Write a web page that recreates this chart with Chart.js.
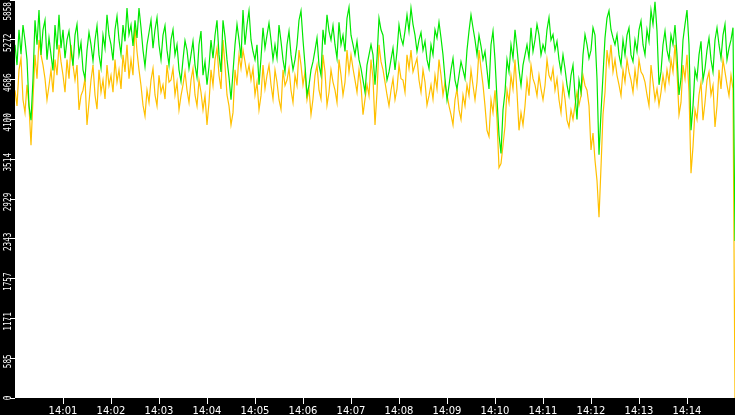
<!DOCTYPE html>
<html>
<head>
<meta charset="utf-8">
<script src="https://cdn.jsdelivr.net/npm/chart.js@4.4.0/dist/chart.umd.min.js"></script>
<style>
  html, body { margin: 0; padding: 0; background: #000; }
  canvas { display: block; }
</style>
</head>
<body>
<canvas id="chart" width="735" height="415"></canvas>
<script>
// one sample every 2.5 s from 14:00:00 to 14:15:00
const stepSeconds = 2.5;

const greenValues = [
  5200, 4900, 5420, 5060, 5490, 5260, 4980, 4300, 4090, 4700, 5560, 5200, 5710, 5050, 5420, 5560, 4980, 5300, 5050, 4820,
  5490, 5130, 5640, 5150, 5420, 5000, 5270, 5400, 5120, 4890, 5340, 5500, 5050, 5230, 4830, 4700, 5120, 5380, 5200, 4960,
  5270, 5480, 5050, 4860, 5340, 5150, 5640, 5340, 5200, 4970, 5420, 5620, 5270, 5060, 5490, 5250, 5740, 5350, 5490, 5180,
  5560, 5300, 5740, 5450, 5120, 4880, 5200, 5380, 5560, 5150, 5420, 5600, 5200, 4980, 5340, 5480, 5120, 4900, 5270, 5420,
  5050, 5200, 4830, 4660, 4980, 5260, 5120, 4850, 5050, 5250, 4900, 4720, 5200, 5400, 4750, 4950, 4610, 4880, 5270, 5000,
  5340, 5560, 5050, 4800, 5560, 5320, 4980, 4720, 4390, 4800, 5200, 5500, 5270, 5000, 5710, 5200, 5490, 5700, 5270, 5100,
  4980, 5200, 4610, 5000, 5450, 5150, 5340, 5520, 5270, 4980, 5200, 5000, 5490, 5250, 4980, 4800, 5200, 5400, 5050, 4830,
  4980, 5200, 5560, 5700, 5270, 4900, 4460, 4600, 4830, 4950, 5120, 5300, 4900, 4750, 5420, 5200, 5640, 5400, 5270, 5480,
  5200, 5000, 5530, 5200, 5340, 5100, 5590, 5750, 5340, 5200, 5050, 5250, 4980, 4850, 4680, 4500, 4900, 5050, 5200, 5050,
  4610, 5000, 5590, 5420, 5340, 5000, 4680, 4800, 4980, 5150, 4830, 5100, 5490, 5300, 5200, 5400, 5640, 5400, 5740, 5500,
  5340, 5100, 5270, 5380, 5120, 5250, 4980, 4850, 5200, 5050, 5420, 5300, 5530, 5300, 5050, 4700, 4390, 4600, 4830, 5000,
  4680, 4550, 4750, 4950, 4830, 4700, 5120, 5400, 5640, 5450, 5270, 5050, 5340, 5180, 4980, 5100, 4830, 4550, 5200, 5400,
  4980, 4400, 3870, 3600, 4240, 4500, 4980, 4800, 5200, 5000, 5420, 5150, 4830, 4600, 4900, 5050, 5200, 5000, 5450, 5100,
  5270, 5500, 5340, 5050, 5200, 5100, 5420, 5600, 5270, 5350, 5120, 5250, 4980, 4800, 5050, 4850, 4610, 4450, 4750, 4900,
  4460, 4100, 4680, 4500, 5050, 5350, 5200, 5000, 5120, 5450, 5340, 4700, 3580, 4200, 4750, 5300, 5590, 5700, 5420, 5300,
  5200, 5350, 5050, 4900, 5270, 5050, 5340, 5450, 5050, 4950, 5270, 5100, 5420, 5550, 5200, 5050, 5420, 5250, 5710, 5500,
  5830, 5400, 4610, 4800, 5200, 5400, 5120, 4980, 5340, 5200, 5490, 5050, 4460, 4700, 5270, 5500, 5710, 5200, 3940, 4300,
  4830, 4700, 5050, 5250, 4680, 4850, 5120, 5300, 4980, 4800, 5270, 5450, 5200, 5000, 5340, 5500, 4980, 5150, 5270, 5450,
  2310
];

const orangeValues = [
  4530, 4300, 4830, 5000, 4390, 4200, 4610, 4300, 3720, 4400, 5050, 4700, 5270, 5050, 4900, 4700, 4390, 4600, 4830, 4500,
  4980, 4750, 5200, 4950, 4750, 4500, 4980, 4700, 5200, 4900, 4680, 4900, 4240, 4450, 4530, 4700, 4020, 4350, 4680, 4900,
  4460, 4250, 4830, 4500, 4680, 4400, 4900, 4600, 4750, 4500, 4980, 4650, 4830, 4550, 5050, 4800, 5200, 4700, 4980, 4750,
  5490, 5100, 4830, 4600, 4310, 4150, 4530, 4350, 4680, 4850, 4460, 4300, 4750, 4500, 4610, 4400, 4900, 4650, 4680, 4850,
  4460, 4650, 4240, 4450, 4610, 4800, 4530, 4350, 4680, 4850, 4460, 4300, 4680, 4500, 4240, 4450, 4020, 4350, 4830, 4600,
  4980, 5150, 4750, 4550, 5270, 4900, 4460, 4300, 4020, 4200, 4830, 4600, 5050, 4850, 5120, 4950, 4750, 4900, 4680, 4850,
  4460, 4650, 4240, 4450, 4900, 4550, 4750, 4900, 4610, 4400, 4830, 4650, 4390, 4250, 4830, 4600, 4680, 4850, 4530, 4350,
  4750, 4600, 5120, 4900, 4610, 4800, 4390, 4550, 4170, 4400, 4750, 4900, 4530, 4400, 5050, 4800, 4310, 4500, 4830, 4650,
  4530, 4350, 4980, 4750, 4460, 4650, 5120, 4800, 5050, 4850, 4680, 4500, 4830, 4600, 4170, 4400, 4610, 4450, 4980, 4700,
  4020, 4500, 5200, 4950, 4830, 4650, 4460, 4300, 4530, 4700, 4390, 4550, 4900, 4700, 4680, 4500, 5050, 4850, 5120, 4800,
  4900, 5000, 4680, 4500, 4830, 4650, 4310, 4450, 4610, 4400, 4750, 4550, 4980, 4750, 4460, 4650, 4460, 4300, 4170, 4020,
  4390, 4550, 4240, 4100, 4460, 4300, 4610, 4450, 4830, 4600, 4390, 4650, 5120, 4850, 4610, 4300, 3940, 3850, 4390, 4200,
  4530, 4100, 3390, 3450, 3720, 4000, 4530, 4350, 4750, 4550, 4980, 4500, 3940, 4200, 4020, 4300, 4680, 4450, 4900, 4700,
  4610, 4450, 4750, 4550, 4390, 4600, 4980, 4750, 4680, 4850, 4530, 4700, 4390, 4200, 4610, 4400, 4090, 3990, 4240, 4100,
  4310, 4500, 4310, 4450, 4750, 4600, 4530, 4300, 3650, 3900, 3500, 3200, 2660, 3400, 4170, 4500, 5120, 4900, 5200, 4800,
  4980, 4750, 4610, 4450, 4830, 4650, 4980, 4800, 4680, 4500, 4830, 4600, 4980, 4800, 4750, 4650, 4460, 4300, 4900, 4650,
  4390, 4550, 4310, 4500, 4750, 4550, 4830, 4650, 4980, 4800, 5200, 4800, 4170, 4350, 4900, 4700, 5050, 4500, 3310, 3700,
  4240, 4100, 4460, 4650, 4090, 4350, 4680, 4800, 4460, 4600, 3990, 4300, 4830, 4550, 4980, 4800, 4610, 4450, 4750, 4550,
  0
];

const yTickLabels = [0, 585, 1171, 1757, 2343, 2929, 3514, 4100, 4686, 5272, 5858];
const xTickLabels = ['14:01', '14:02', '14:03', '14:04', '14:05', '14:06', '14:07',
  '14:08', '14:09', '14:10', '14:11', '14:12', '14:13', '14:14'];

const toPoints = values => values.map((v, i) => ({ x: i * stepSeconds, y: v }));

// black frame with a white plot area
const frame = {
  id: 'frame',
  beforeDraw(chart) {
    const { ctx, chartArea: a } = chart;
    ctx.save();
    ctx.fillStyle = '#000';
    ctx.fillRect(0, 0, chart.width, chart.height);
    ctx.fillStyle = '#fff';
    ctx.fillRect(a.left, a.top, a.right - a.left, a.bottom - a.top);
    ctx.restore();
  }
};

// y labels are rotated and narrow in the original
const rotatedYLabels = {
  id: 'rotatedYLabels',
  afterDraw(chart) {
    const ctx = chart.ctx;
    const scale = chart.scales.y;
    const squeeze = 0.7;
    ctx.save();
    ctx.fillStyle = '#fff';
    ctx.font = '11px "DejaVu Sans Mono"';
    ctx.textAlign = 'center';
    ctx.textBaseline = 'alphabetic';
    scale.ticks.forEach(t => {
      const label = String(t.value);
      const half = ctx.measureText(label).width * squeeze / 2;
      let c = scale.getPixelForValue(t.value) + 3;
      c = Math.max(half + 2, Math.min(chart.chartArea.bottom, c));
      ctx.save();
      ctx.translate(11, c);
      ctx.rotate(-Math.PI / 2);
      ctx.scale(squeeze, 1);
      ctx.fillText(label, 0, 0);
      ctx.restore();
    });
    ctx.restore();
  }
};

new Chart(document.getElementById('chart'), {
  type: 'line',
  data: {
    datasets: [
      {
        label: 'green',
        data: toPoints(greenValues),
        borderColor: '#00e800',
        borderWidth: 1.2,
        pointRadius: 0,
        tension: 0
      },
      {
        label: 'orange',
        data: toPoints(orangeValues),
        borderColor: '#ffc000',
        borderWidth: 1.2,
        pointRadius: 0,
        tension: 0
      }
    ]
  },
  options: {
    responsive: false,
    animation: false,
    devicePixelRatio: 1,
    layout: { padding: 0 },
    plugins: {
      legend: { display: false },
      tooltip: { enabled: false }
    },
    scales: {
      x: {
        type: 'linear',
        min: 0,
        max: 900,
        afterBuildTicks: scale => {
          scale.ticks = xTickLabels.map((_, i) => ({ value: (i + 1) * 60 }));
        },
        afterFit: scale => { scale.height = 17; },
        border: { display: false },
        grid: { drawOnChartArea: false, color: '#fff', tickLength: 6 },
        ticks: {
          autoSkip: false,
          maxRotation: 0,
          padding: 1,
          color: '#fff',
          font: { family: 'DejaVu Sans', size: 10 },
          callback: (v, i) => xTickLabels[i]
        }
      },
      y: {
        min: 0,
        max: 5858,
        afterBuildTicks: scale => {
          scale.ticks = yTickLabels.map(v => ({ value: v }));
        },
        afterFit: scale => { scale.width = 15; },
        border: { display: false },
        grid: { drawOnChartArea: false, color: '#fff', tickLength: 5 },
        ticks: { display: false }
      }
    }
  },
  plugins: [frame, rotatedYLabels]
});
</script>
</body>
</html>
